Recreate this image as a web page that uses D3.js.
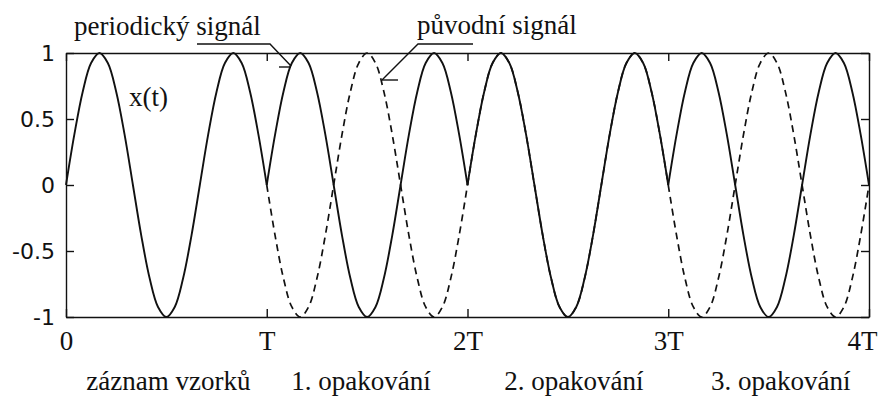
<!DOCTYPE html>
<html>
<head>
<meta charset="utf-8">
<script src="https://cdn.jsdelivr.net/npm/d3@7"></script>
<style>
  html, body { margin: 0; padding: 0; background: #fff; }
  svg { display: block; }
  .serif { font-family: "Liberation Serif", "Tinos", "Times New Roman", "DejaVu Serif", serif; }
  .sans { font-family: "DejaVu Sans", sans-serif; }
</style>
</head>
<body>
<svg id="chart" width="879" height="396"></svg>
<script>
// One recorded period of the signal (25 samples over 0..T, step T/24)
const recordSamples = [0, 0.383, 0.707, 0.924, 1, 0.924, 0.707, 0.383, 0,
  -0.383, -0.707, -0.924, -1, -0.924, -0.707, -0.383, 0,
  0.383, 0.707, 0.924, 1, 0.924, 0.707, 0.383, 0];
// How the original signal actually continues over the following interval T..2T
const originalNext = [0, -0.383, -0.707, -0.924, -1, -0.924, -0.707, -0.383, 0,
  0.383, 0.707, 0.924, 1, 0.924, 0.707, 0.383, 0,
  -0.383, -0.707, -0.924, -1, -0.924, -0.707, -0.383, 0];
// Which interval (in units of T) holds which piece of the signals
const periodicIntervals = [0, 1, 2, 3];
const originalIntervals = [1, 2, 3];
const xTicks = [0, 1, 2, 3, 4];
const xTickLabels = ["0", "T", "2T", "3T", "4T"];
const yTicks = [-1, -0.5, 0, 0.5, 1];
const yTickLabels = ["-1", "-0.5", "0", "0.5", "1"];
const sectionLabels = ["záznam vzorků", "1. opakování", "2. opakování", "3. opakování"];

const svg = d3.select("#chart");
svg.append("rect").attr("width", 879).attr("height", 396).attr("fill", "#fff");

const x = d3.scaleLinear().domain([0, 4]).range([66, 869]);
const y = d3.scaleLinear().domain([-1, 1]).range([317, 53]);

const line = d3.line()
  .x(d => x(d.t))
  .y(d => y(d.v))
  .curve(d3.curveCatmullRom);

const steps = recordSamples.length - 1;
function piece(samples, start) {
  return samples.map((v, k) => ({ t: start + k / steps, v }));
}

const plot = svg.append("g");

// original signal (dashed), drawn below the periodic one
originalIntervals.forEach(start => {
  const samples = (start % 2 === 1) ? originalNext : recordSamples;
  plot.append("path")
    .attr("d", line(piece(samples, start)))
    .attr("fill", "none")
    .attr("stroke", "#111")
    .attr("stroke-width", 1.7)
    .attr("stroke-dasharray", "7,5");
});

// periodic repetition of the recorded samples (solid)
periodicIntervals.forEach(start => {
  plot.append("path")
    .attr("d", line(piece(recordSamples, start)))
    .attr("fill", "none")
    .attr("stroke", "#111")
    .attr("stroke-width", 1.9);
});

// axes with inward ticks on all four sides
const gLeft = svg.append("g").attr("transform", `translate(${x(0)},0)`)
  .call(d3.axisLeft(y).tickValues(yTicks).tickSizeInner(-8).tickSizeOuter(0).tickPadding(11)
    .tickFormat((d, i) => yTickLabels[i]));
gLeft.attr("font-family", null).attr("font-size", null);
gLeft.selectAll("text").attr("class", "sans").attr("font-size", 22).attr("fill", "#111");

const gBottom = svg.append("g").attr("transform", `translate(0,${y(-1)})`)
  .call(d3.axisBottom(x).tickValues(xTicks).tickSizeInner(-8).tickSizeOuter(0).tickPadding(14)
    .tickFormat((d, i) => xTickLabels[i]));
gBottom.attr("font-family", null).attr("font-size", null);
gBottom.selectAll("text").attr("class", "serif").attr("font-size", 27).attr("fill", "#111");
gBottom.selectAll(".tick:last-of-type text").attr("x", -7);

svg.append("g").attr("transform", `translate(0,${y(1)})`)
  .call(d3.axisTop(x).tickValues(xTicks).tickSizeInner(-8).tickSizeOuter(0).tickFormat(""));
svg.append("g").attr("transform", `translate(${x(4)},0)`)
  .call(d3.axisRight(y).tickValues(yTicks).tickSizeInner(-8).tickSizeOuter(0).tickFormat(""));

svg.selectAll(".domain, .tick line").attr("stroke", "#111").attr("stroke-width", 1.4);

// interval captions under the axis
const sectionCenters = [0.51, 1.47, 2.53, 3.56];
sectionLabels.forEach((s, i) => {
  svg.append("text")
    .attr("class", "serif")
    .attr("x", x(sectionCenters[i])).attr("y", 390)
    .attr("text-anchor", "middle")
    .attr("font-size", 27).attr("fill", "#111")
    .text(s);
});

// signal name inside the plot
svg.append("text")
  .attr("class", "serif")
  .attr("x", 129).attr("y", 106)
  .attr("font-size", 27).attr("fill", "#111")
  .text("x(t)");

// annotations with leader lines
const leader = svg.append("g").attr("fill", "none").attr("stroke", "#111").attr("stroke-width", 1.4);

svg.append("text")
  .attr("class", "serif")
  .attr("x", 74).attr("y", 35)
  .attr("font-size", 27).attr("fill", "#111")
  .text("periodický signál");
leader.append("polyline").attr("points", "197,44 270,44 291,66");
leader.append("line").attr("x1", 279).attr("y1", 67).attr("x2", 291).attr("y2", 67);

svg.append("text")
  .attr("class", "serif")
  .attr("x", 417).attr("y", 34)
  .attr("font-size", 27).attr("fill", "#111")
  .text("původní signál");
leader.append("polyline").attr("points", "473,44 418,44 382,80");
leader.append("line").attr("x1", 382).attr("y1", 80).attr("x2", 398).attr("y2", 80);
</script>
</body>
</html>
